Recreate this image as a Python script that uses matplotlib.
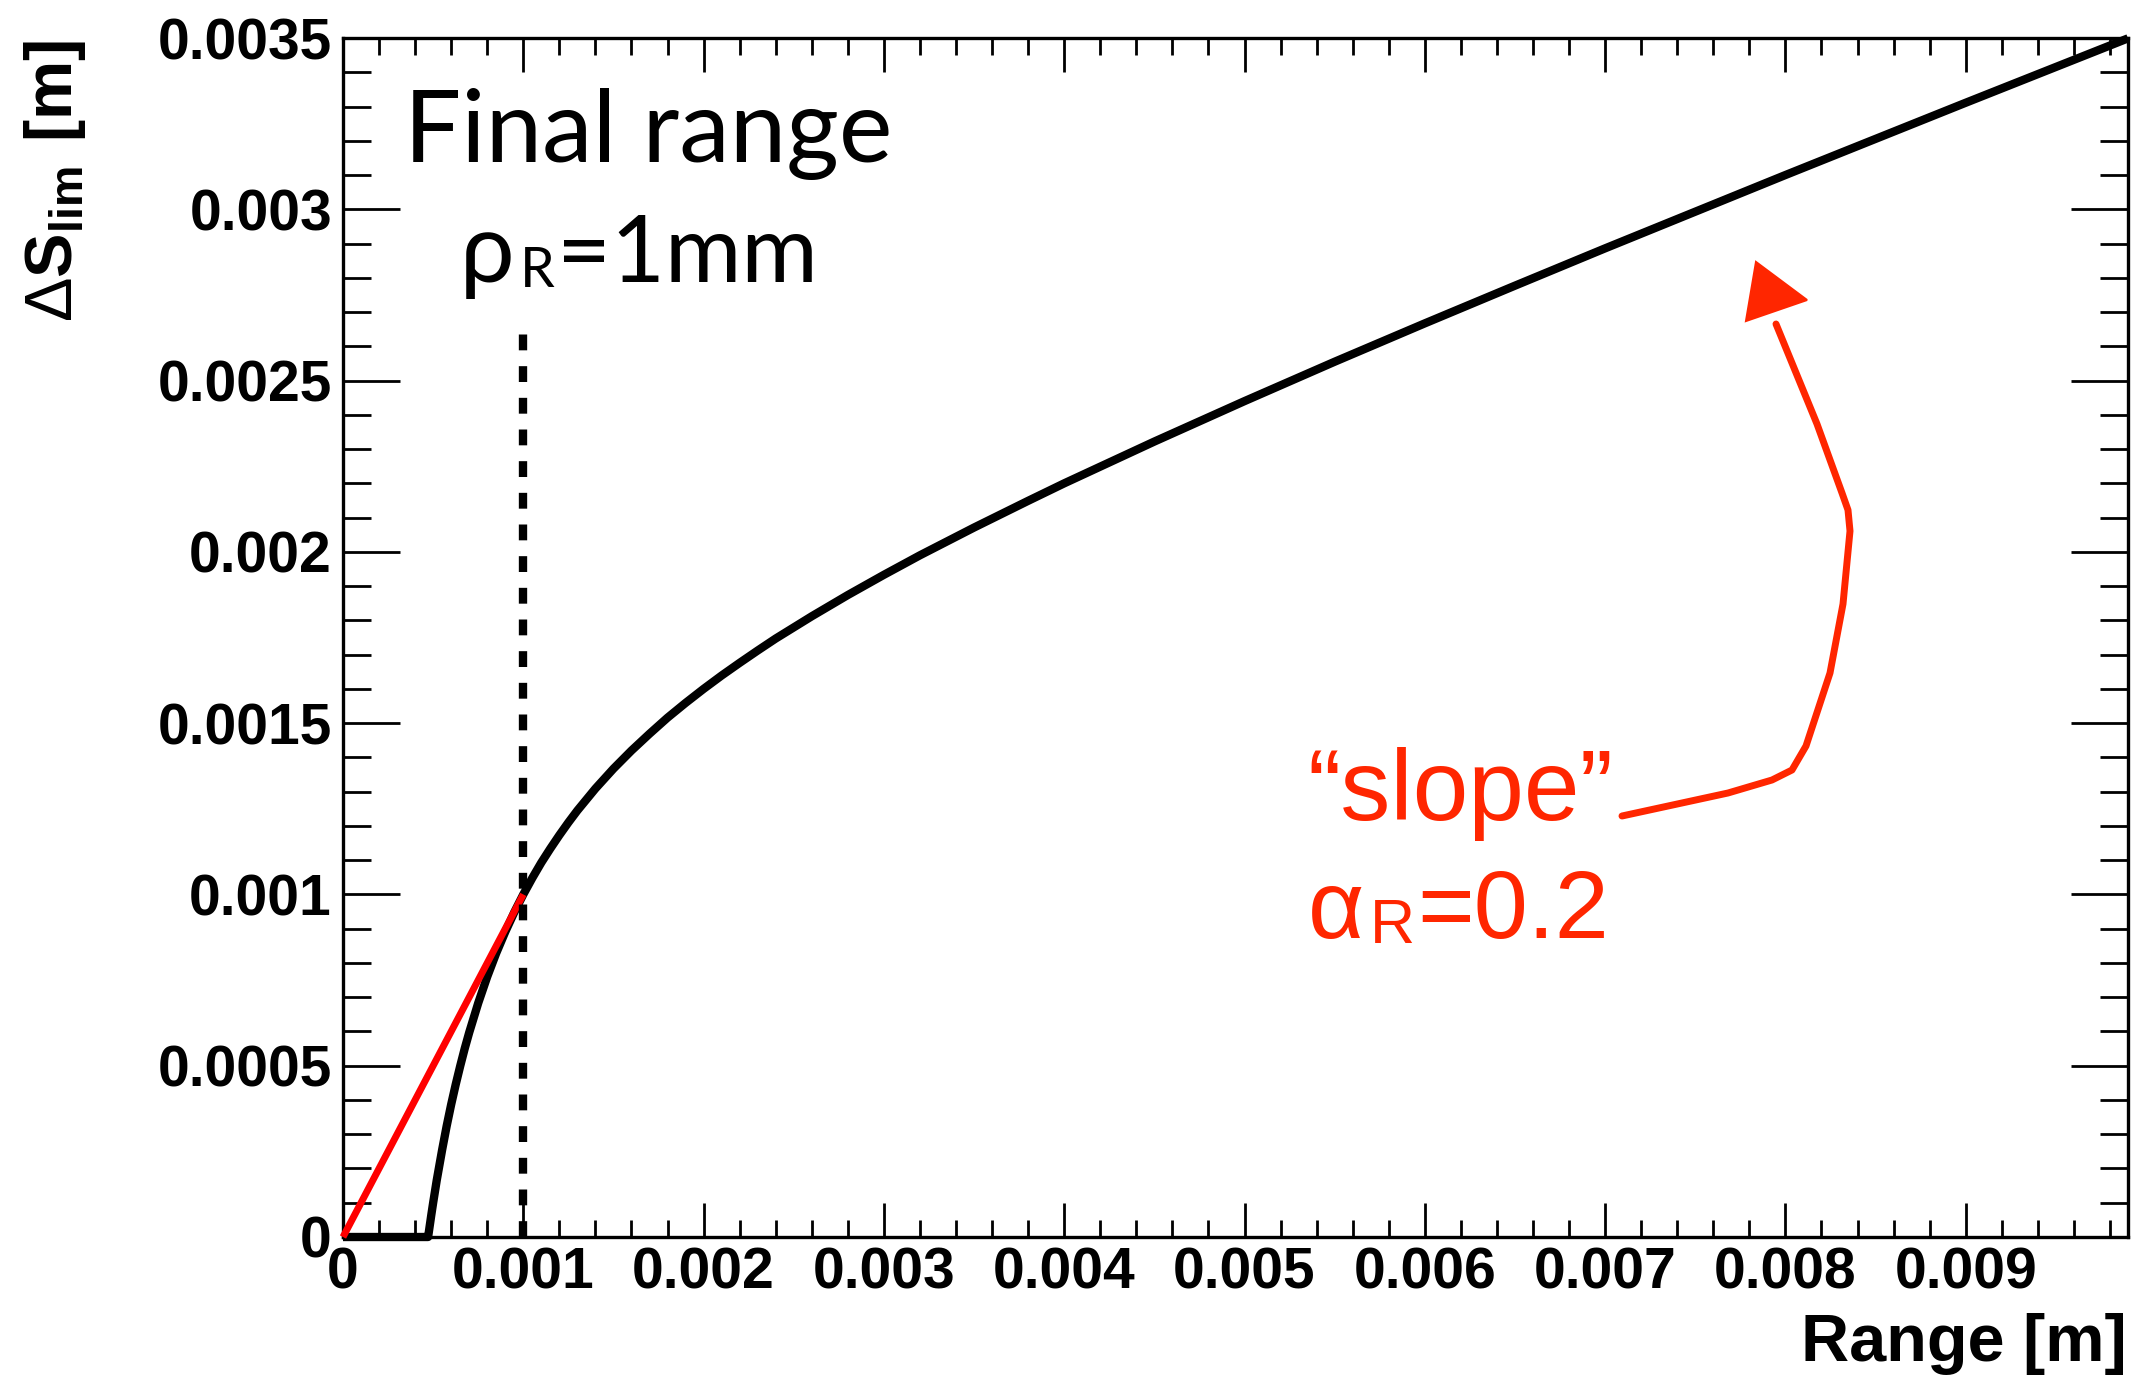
import numpy as np
import matplotlib
matplotlib.use("Agg")
import matplotlib.pyplot as plt
from matplotlib.ticker import MultipleLocator, FixedLocator, FixedFormatter
from matplotlib.patches import Polygon
from matplotlib.font_manager import FontProperties

# Step-limit function Delta S_lim versus range (metres)
range_m = [0.0, 0.000472, 0.000475, 0.00049, 0.0005, 0.00052, 0.00055, 0.000575,
           0.0006, 0.000625, 0.00065, 0.000675, 0.0007, 0.00075, 0.0008, 0.00085,
           0.0009, 0.00095, 0.001, 0.00105, 0.0011, 0.00115, 0.0012, 0.00125,
           0.0013, 0.00135, 0.0014, 0.0015, 0.0016, 0.0017, 0.0018, 0.0019,
           0.002, 0.0021, 0.0022, 0.0023, 0.0024, 0.0026, 0.0028, 0.003,
           0.0032, 0.0035, 0.0038, 0.004, 0.0045, 0.005, 0.0055, 0.006,
           0.0065, 0.007, 0.008, 0.009, 0.0099]
step_lim = [0.0, 0.0, 0.0000108, 0.0000653, 0.0001, 0.000166, 0.000255, 0.000324,
            0.000387, 0.000445, 0.000499, 0.00055, 0.000597, 0.000683, 0.00076, 0.000829,
            0.000891, 0.000948, 0.001, 0.001048, 0.001093, 0.001134, 0.001173, 0.00121,
            0.001245, 0.001277, 0.001309, 0.001367, 0.00142, 0.001469, 0.001516, 0.001559,
            0.0016, 0.001639, 0.001676, 0.001712, 0.001747, 0.001812, 0.001874, 0.001933,
            0.00199, 0.002071, 0.002149, 0.0022, 0.002322, 0.00244, 0.002555, 0.002667,
            0.002777, 0.002886, 0.0031, 0.003311, 0.003499]

# Straight line below the final range: step = range
linear_range = [0.0, 0.001]
linear_step = [0.0, 0.001]

# Final range marker
final_range = 0.001
final_range_top = 0.00266

x_ticks = [0, 0.001, 0.002, 0.003, 0.004, 0.005, 0.006, 0.007, 0.008, 0.009]
x_tick_labels = ["0", "0.001", "0.002", "0.003", "0.004", "0.005", "0.006",
                 "0.007", "0.008", "0.009"]
y_ticks = [0, 0.0005, 0.001, 0.0015, 0.002, 0.0025, 0.003, 0.0035]
y_tick_labels = ["0", "0.0005", "0.001", "0.0015", "0.002", "0.0025", "0.003", "0.0035"]

RED_TEXT = "#FF2600"
W, H, DPI = 2134, 1376, 100

fig = plt.figure(figsize=(W / DPI, H / DPI), dpi=DPI)
ax = fig.add_axes([343 / W, 1 - 1237 / H, 1785 / W, 1199 / H])

ax.plot(range_m, step_lim, color="black", lw=6.0, solid_capstyle="butt",
        solid_joinstyle="round", clip_on=False, zorder=3)
ax.plot(linear_range, linear_step, color="#FF0000", lw=5.0, solid_capstyle="butt",
        clip_on=False, zorder=4)
ax.plot([final_range, final_range], [0, final_range_top], color="black", lw=6.0,
        linestyle=(0, (1.9, 1.9)), dash_capstyle="butt", clip_on=False, zorder=5)

ax.set_xlim(0, 0.0099)
ax.set_ylim(0, 0.0035)

tick_font = FontProperties(family="Liberation Sans", weight="bold", size=41)
ax.xaxis.set_major_locator(FixedLocator(x_ticks))
ax.xaxis.set_major_formatter(FixedFormatter(x_tick_labels))
ax.yaxis.set_major_locator(FixedLocator(y_ticks))
ax.yaxis.set_major_formatter(FixedFormatter(y_tick_labels))
ax.xaxis.set_minor_locator(MultipleLocator(0.0002))
ax.yaxis.set_minor_locator(MultipleLocator(0.0001))
for lab in ax.get_xticklabels() + ax.get_yticklabels():
    lab.set_fontproperties(tick_font)

ax.tick_params(axis="both", which="both", direction="in", top=True, right=True,
               width=2.0, color="black")
ax.tick_params(axis="x", which="major", length=24.5, pad=7)
ax.tick_params(axis="x", which="minor", length=12)
ax.tick_params(axis="y", which="major", length=41, pad=8)
ax.tick_params(axis="y", which="minor", length=20)
for sp in ax.spines.values():
    sp.set_linewidth(2.4)

# Axis titles
plt.rcParams["mathtext.fontset"] = "custom"
plt.rcParams["mathtext.rm"] = "Liberation Sans"
plt.rcParams["mathtext.bf"] = "Liberation Sans:bold"
fig.text(2127 / W, 1 - 1361 / H, "Range [m]", ha="right", va="baseline",
         fontsize=48, fontweight="bold", family="Liberation Sans")
fig.text(55 / W, 1 - 40 / H, r"$\Delta\mathbf{S}_{\mathbf{lim}}\ \mathbf{[m]}$",
         rotation=90, ha="center", va="top", fontsize=48)

renderer = fig.canvas.get_renderer()


def text_run(pieces, x, y, color, family):
    """Place consecutive text pieces on one line; each piece is (text, size, dy_px, gap_px)."""
    inv = ax.transAxes.inverted()
    x_px, y_px = ax.transAxes.transform((x, y))
    for txt, size, dy, gap in pieces:
        x_px += gap
        xa, ya = inv.transform((x_px, y_px - dy))
        t = ax.text(xa, ya, txt, transform=ax.transAxes, ha="left", va="baseline",
                    fontsize=size, color=color, family=family)
        x_px = t.get_window_extent(renderer).x1


def fx(px):
    return (px - 343) / 1785


def fy(py):
    return (1237 - py) / 1199


gill = ["Lato", "Noto Sans", "DejaVu Sans"]
ax.text(fx(404), fy(162), "Final range", transform=ax.transAxes, ha="left",
        va="baseline", fontsize=73, color="black", family=gill)
text_run([("ρ", 70, 0, 0), ("R", 40, 5, 5), ("=1mm", 67, 0, 2)],
         fx(460), fy(282), "black", gill)

helv = ["Liberation Sans", "DejaVu Sans"]
ax.text(fx(1460), fy(820), "\u201cslope\u201d", transform=ax.transAxes, ha="center",
        va="baseline", fontsize=72, color=RED_TEXT, family=helv)
text_run([("α", 70, 0, 0), ("R", 45, 5, 6), ("=0.2", 70, 0, 2)],
         fx(1308), fy(938), RED_TEXT, helv)

# Hand-drawn pointer towards the slope of the curve
arrow_path = [(1622, 816), (1728, 793), (1772, 780), (1792, 770), (1806, 746),
              (1830, 673), (1843, 604), (1850, 531), (1848, 510), (1842, 493),
              (1817, 424), (1776, 324)]
ax.plot([fx(p[0]) for p in arrow_path], [fy(p[1]) for p in arrow_path],
        transform=ax.transAxes, color=RED_TEXT, lw=5.0, solid_joinstyle="round",
        solid_capstyle="round", clip_on=False, zorder=6)
head = [(1756, 262), (1807, 300), (1746, 321)]
ax.add_patch(Polygon([(fx(p[0]), fy(p[1])) for p in head], closed=True,
                     transform=ax.transAxes, facecolor=RED_TEXT, edgecolor=RED_TEXT,
                     lw=1.5, zorder=6, clip_on=False))

fig.savefig("out.png", dpi=DPI)
